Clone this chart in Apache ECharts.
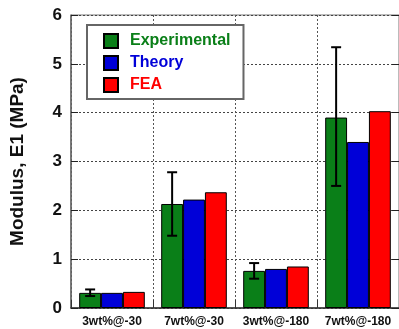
<!DOCTYPE html>
<html><head><meta charset="utf-8">
<script src="https://cdn.jsdelivr.net/npm/echarts@6/dist/echarts.min.js"></script>
<style>html,body{margin:0;padding:0;background:#fff}#c{width:399px;height:329px}</style>
</head><body><div id="c"></div>
<script>
const categories = ['3wt%@-30', '7wt%@-30', '3wt%@-180', '7wt%@-180'];
const experimental = [0.31, 2.13, 0.76, 3.90];
const theory = [0.31, 2.22, 0.80, 3.40];
const fea = [0.33, 2.37, 0.85, 4.03];
const expErrLow = [0.245, 1.48, 0.60, 2.50];
const expErrHigh = [0.38, 2.78, 0.92, 5.34];
const yTicks = [0, 1, 2, 3, 4, 5, 6];

const FONT = 'Liberation Sans, Arial, sans-serif';
const chart = echarts.init(document.getElementById('c'), null, {renderer: 'canvas'});
const barCatGap = 0.2;
chart.setOption({
  animation: false,
  textStyle: {fontFamily: FONT},
  grid: {left: 70, right: -1, top: 15, bottom: 21, show: true, borderColor: '#777', borderWidth: 1},
  legend: {
    left: 87, top: 25, orient: 'vertical',
    backgroundColor: '#fff', borderColor: '#666', borderWidth: 2,
    padding: [8, 13, 6, 16], itemGap: 6, itemWidth: 14, itemHeight: 14,
    icon: 'rect',
    textStyle: {fontFamily: FONT, fontWeight: 'bold', fontSize: 16, padding: [0, 0, 0, 7]},
    data: [
      {name: 'Experimental', textStyle: {color: '#0a7f18'}},
      {name: 'Theory', textStyle: {color: '#0000d8'}},
      {name: 'FEA', textStyle: {color: '#ff0000'}}
    ]
  },
  xAxis: {
    type: 'category', data: categories,
    axisLine: {lineStyle: {color: '#333', width: 1.5}},
    axisTick: {show: true, inside: true, length: 8, interval: 0, lineStyle: {color: '#333'}},
    axisLabel: {color: '#111', fontWeight: 'bold', fontSize: 12, margin: 8, interval: 0, fontFamily: FONT},
    splitLine: {show: true, interval: 0, lineStyle: {color: '#555', type: [2, 2], width: 1}}
  },
  yAxis: [{
    type: 'value', min: 0, max: 6, interval: 1,
    name: 'Modulus, E1 (MPa)', nameLocation: 'middle', nameGap: 44,
    nameTextStyle: {fontWeight: 'bold', fontSize: 19, color: '#111', fontFamily: FONT},
    axisLine: {show: true, lineStyle: {color: '#666', width: 1.5}},
    axisTick: {show: true, inside: true, length: 7, lineStyle: {color: '#222'}},
    axisLabel: {color: '#111', fontWeight: 'bold', fontSize: 17, margin: 9, fontFamily: FONT,
      formatter: v => yTicks.includes(v) ? String(v) : ''},
    splitLine: {show: true, lineStyle: {color: '#444', type: [2, 2], width: 1}}
  }, {
    type: 'value', min: 0, max: 6, interval: 1, position: 'right',
    axisLine: {show: true, lineStyle: {color: '#777'}},
    axisTick: {show: true, inside: true, length: 7, lineStyle: {color: '#222'}},
    axisLabel: {show: false}, splitLine: {show: false}
  }],
  series: [
    {name: 'Experimental', type: 'bar', data: experimental, barGap: '0%', barCategoryGap: '20%',
      itemStyle: {color: '#0a7f18', borderColor: '#000', borderWidth: 1}},
    {name: 'Theory', type: 'bar', data: theory, barGap: '0%', barCategoryGap: '20%',
      itemStyle: {color: '#0000d8', borderColor: '#000', borderWidth: 1}},
    {name: 'FEA', type: 'bar', data: fea, barGap: '0%', barCategoryGap: '20%',
      itemStyle: {color: '#ff0000', borderColor: '#000', borderWidth: 1}},
    {
      type: 'custom', z: 10,
      data: categories.map((c, i) => [i, expErrLow[i], expErrHigh[i]]),
      renderItem: (params, api) => {
        const i = api.value(0);
        const band = api.size([1, 0])[0];
        const off = -band * (1 - barCatGap) / 3;
        const lo = api.coord([i, api.value(1)]);
        const hi = api.coord([i, api.value(2)]);
        const x = lo[0] + off;
        const cap = 5;
        const st = {stroke: '#000', lineWidth: 2};
        return {type: 'group', children: [
          {type: 'line', shape: {x1: x, y1: lo[1], x2: x, y2: hi[1]}, style: st},
          {type: 'line', shape: {x1: x - cap, y1: lo[1], x2: x + cap, y2: lo[1]}, style: st},
          {type: 'line', shape: {x1: x - cap, y1: hi[1], x2: x + cap, y2: hi[1]}, style: st}
        ]};
      }
    }
  ]
});
</script></body></html>
